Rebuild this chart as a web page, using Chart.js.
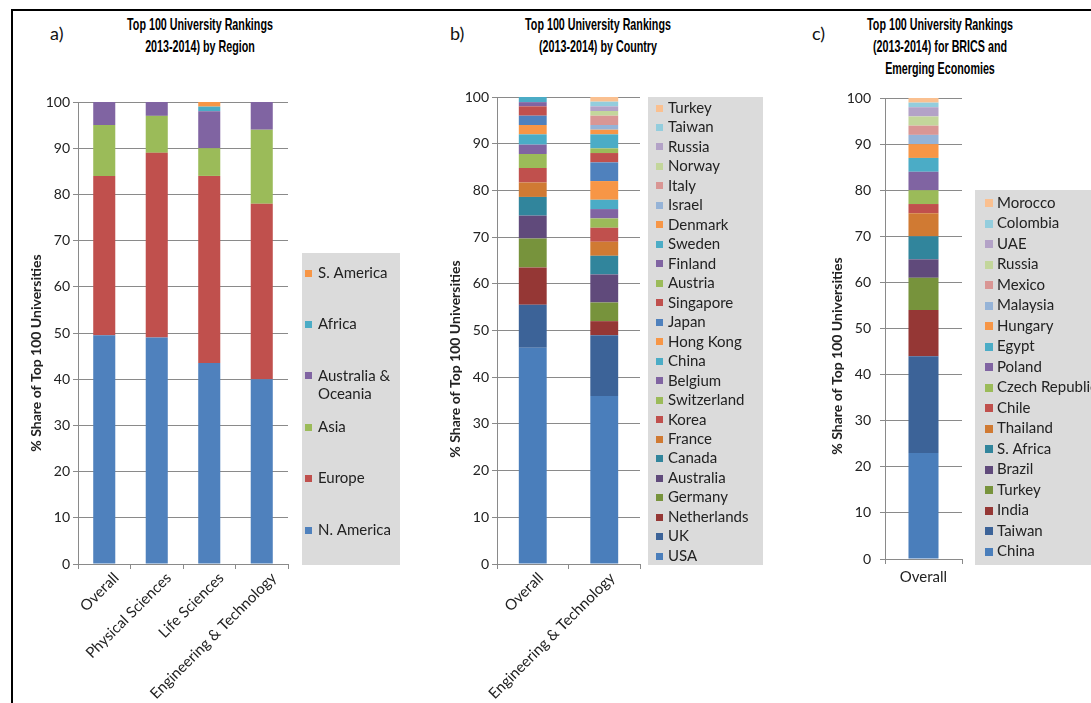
<!DOCTYPE html>
<html>
<head>
<meta charset="utf-8">
<script src="https://cdn.jsdelivr.net/npm/chart.js@4.4.1/dist/chart.umd.min.js"></script>
<style>
  body { margin:0; background:#fff; width:1091px; height:703px; overflow:hidden; position:relative; font-family:Lato, "Open Sans", sans-serif; }
  .frame { position:absolute; left:11px; top:9px; width:1100px; height:720px; border-top:2px solid #000; border-left:2px solid #000; }
  canvas { position:absolute; }
  .tag { position:absolute; font-size:18px; color:#111; }
  .ttl { position:absolute; width:260px; text-align:center; font-family:"Liberation Sans", sans-serif; font-weight:bold; font-size:16.5px; line-height:22px; color:#000; transform:scaleX(0.65); transform-origin:50% 0; }
</style>
</head>
<body>
<div class="frame"></div>

<div class="tag" style="left:50px;top:22px;">a)</div>
<div class="ttl" style="left:70px;top:13px;">Top 100 University Rankings<br>2013-2014) by Region</div>
<div class="tag" style="left:450px;top:22px;">b)</div>
<div class="ttl" style="left:468px;top:13px;">Top 100 University Rankings<br>(2013-2014) by Country</div>
<div class="tag" style="left:812px;top:22px;">c)</div>
<div class="ttl" style="left:810px;top:13px;">Top 100 University Rankings<br>(2013-2014) for BRICS and<br>Emerging Economies</div>

<canvas id="chartA" width="393" height="693" style="left:12px;top:10px;"></canvas>
<canvas id="chartB" width="365" height="693" style="left:405px;top:10px;"></canvas>
<canvas id="chartC" width="321" height="693" style="left:770px;top:10px;"></canvas>

<script>
/* a) 地域別 */
const regionCategories = ['Overall', 'Physical Sciences', 'Life Sciences', 'Engineering & Technology'];
const regionNames = ['N. America', 'Europe', 'Asia', 'Australia & Oceania', 'Africa', 'S. America'];
const nAmerica  = [49.5, 49, 43.5, 40];
const europe    = [34.5, 40, 40.5, 38];
const asia      = [11, 8, 6, 16];
const australia = [5, 3, 8, 6];
const africa    = [0, 0, 1, 0];
const sAmerica  = [0, 0, 1, 0];

/* b) 国別 (下から順) */
const countryCategories = ['Overall', 'Engineering & Technology'];
const countryNames = ['USA', 'UK', 'Netherlands', 'Germany', 'Australia', 'Canada', 'France', 'Korea',
  'Switzerland', 'Belgium', 'China', 'Hong Kong', 'Japan', 'Singapore', 'Austria', 'Finland',
  'Sweden', 'Denmark', 'Israel', 'Italy', 'Norway', 'Russia', 'Taiwan', 'Turkey'];
const countryOverall = [46.3, 9.2, 8, 6.2, 4.9, 4, 3.1, 3.1, 3, 2, 2.2, 2, 2, 2, 0, 0.9, 1.1, 0, 0, 0, 0, 0, 0, 0];
const countryEng     = [36, 13, 3, 4, 6, 4, 3, 3, 2, 2, 2, 4, 4, 2, 1, 0, 3, 1, 1, 2, 1, 1, 1, 1];

/* c) BRICS・新興国 (下から順) */
const bricsCategories = ['Overall'];
const bricsNames = ['China', 'Taiwan', 'India', 'Turkey', 'Brazil', 'S. Africa', 'Thailand', 'Chile',
  'Czech Republic', 'Poland', 'Egypt', 'Hungary', 'Malaysia', 'Mexico', 'Russia', 'UAE', 'Colombia', 'Morocco'];
const bricsOverall = [23, 21, 10, 7, 4, 5, 5, 2, 3, 4, 3, 3, 2, 2, 2, 2, 1, 1];

const yTicks = [0, 10, 20, 30, 40, 50, 60, 70, 80, 90, 100];
const yTitle = '% Share of Top 100 Universities';

/* Excel風の色 */
const regionColors = ['#4F81BD', '#C0504D', '#9BBB59', '#8064A2', '#4BACC6', '#F79646'];
const longColors = ['#4A7EBB', '#3C6398', '#953735', '#77933C', '#604A7B', '#31859C', '#D07A33',
  '#C0504D', '#9BBB59', '#8064A2', '#4BACC6', '#F79646',
  '#4F81BD', '#C0504D', '#9BBB59', '#8064A2', '#4BACC6', '#F79646',
  '#95B3D7', '#D99694', '#C3D69B', '#B3A2C7', '#93CDDD', '#FAC090'];
const bricsColors = longColors.slice(0, 12).concat(longColors.slice(18));

const gridColor = '#8a8a8a';
const textColor = '#222';
const fontFamily = 'Lato, "Open Sans", sans-serif';

/* 右側の灰色の凡例と縦軸タイトル */
function wrapText(ctx, text, maxW) {
  const words = text.split(' ');
  const lines = [];
  let cur = '';
  words.forEach(function (w) {
    const test = cur ? cur + ' ' + w : w;
    if (cur && ctx.measureText(test).width > maxW) { lines.push(cur); cur = w; } else { cur = test; }
  });
  lines.push(cur);
  return lines;
}

const sideLegend = {
  id: 'sideLegend',
  afterDraw(chart, args, o) {
    const ctx = chart.ctx;
    ctx.save();
    ctx.fillStyle = '#dbdbdb';
    ctx.fillRect(o.x, o.y, o.w, o.h);
    ctx.font = '15px ' + fontFamily;
    ctx.textBaseline = 'middle';
    ctx.textAlign = 'left';
    const sets = chart.data.datasets.slice().reverse();
    sets.forEach(function (ds, k) {
      const yc = o.firstY + k * o.step;
      ctx.fillStyle = ds.backgroundColor;
      ctx.fillRect(o.boxX, Math.round(yc - o.box / 2), o.box, o.box);
      ctx.fillStyle = textColor;
      const lines = o.wrap ? wrapText(ctx, ds.label, o.x + o.w - o.textX - 2) : [ds.label];
      lines.forEach(function (ln, j) { ctx.fillText(ln, o.textX, yc + j * 18); });
    });
    /* 縦軸タイトル */
    ctx.translate(o.titleX, o.titleY);
    ctx.rotate(-Math.PI / 2);
    ctx.font = 'bold 14px ' + fontFamily;
    ctx.textAlign = 'center';
    ctx.fillText(yTitle, 0, 0);
    ctx.restore();
  }
};

function makeDatasets(names, colors, valueOf) {
  return names.map(function (n, i) {
    return { label: n, data: valueOf(i), backgroundColor: colors[i], borderWidth: 0 };
  });
}

function makeChart(id, labels, datasets, cfg) {
  return new Chart(document.getElementById(id).getContext('2d'), {
    type: 'bar',
    data: { labels: labels, datasets: datasets },
    plugins: [sideLegend],
    options: {
      responsive: false,
      animation: false,
      events: [],
      datasets: { bar: { barPercentage: cfg.barPct, categoryPercentage: 1 } },
      layout: { padding: { left: cfg.padLeft, right: cfg.padRight, top: cfg.padTop, bottom: 0 } },
      plugins: {
        legend: { display: false },
        tooltip: { enabled: false },
        sideLegend: cfg.legend
      },
      scales: {
        x: {
          stacked: true,
          afterFit: function (axis) { axis.height = cfg.xHeight; },
          border: { color: gridColor },
          grid: { drawOnChartArea: false, drawTicks: true, tickLength: 5, color: gridColor, offset: true },
          ticks: {
            autoSkip: false, minRotation: cfg.rot, maxRotation: cfg.rot, padding: cfg.xPad, labelOffset: cfg.xShift,
            color: textColor, font: { family: fontFamily, size: 15 }
          }
        },
        y: {
          stacked: true,
          min: 0, max: 100,
          afterFit: function (axis) { axis.width = cfg.yWidth; },
          afterBuildTicks: function (axis) { axis.ticks = yTicks.map(function (v) { return { value: v }; }); },
          border: { color: gridColor },
          grid: { color: gridColor, tickLength: 5 },
          ticks: { padding: cfg.tickPad, color: textColor, font: { family: fontFamily, size: 14 } }
        }
      }
    }
  });
}

/* a) */
makeChart('chartA', regionCategories,
  makeDatasets(regionNames, regionColors, function (i) {
    return [nAmerica, europe, asia, australia, africa, sAmerica][i];
  }),
  { barPct: 0.42, padLeft: 10, padRight: 117, padTop: 92, xHeight: 139, yWidth: 56, tickPad: 3, rot: 45, xPad: 0, xShift: 12,
    legend: { x: 290, y: 243, w: 98, h: 312, firstY: 263, step: 51.4, box: 7, boxX: 293, textX: 306, wrap: true,
      titleX: 24, titleY: 343 } });

/* b) */
makeChart('chartB', countryCategories,
  makeDatasets(countryNames, longColors, function (i) { return [countryOverall[i], countryEng[i]]; }),
  { barPct: 0.39, padLeft: 36, padRight: 130, padTop: 87, xHeight: 139, yWidth: 56, tickPad: 3, rot: 45, xPad: 0, xShift: 8,
    legend: { x: 243, y: 87, w: 115, h: 468, firstY: 98, step: 19.48, box: 7, boxX: 251, textX: 263, wrap: false,
      titleX: 50, titleY: 349 } });

/* c) */
makeChart('chartC', bricsCategories,
  makeDatasets(bricsNames, bricsColors, function (i) { return [bricsOverall[i]]; }),
  { barPct: 0.39, padLeft: 53, padRight: 129, padTop: 88, xHeight: 144, yWidth: 62, tickPad: 9, rot: 0, xPad: 4, xShift: 0,
    legend: { x: 205, y: 180, w: 130, h: 375, firstY: 193, step: 20.5, box: 8, boxX: 215, textX: 227, wrap: false,
      titleX: 67, titleY: 346 } });
</script>
</body>
</html>
